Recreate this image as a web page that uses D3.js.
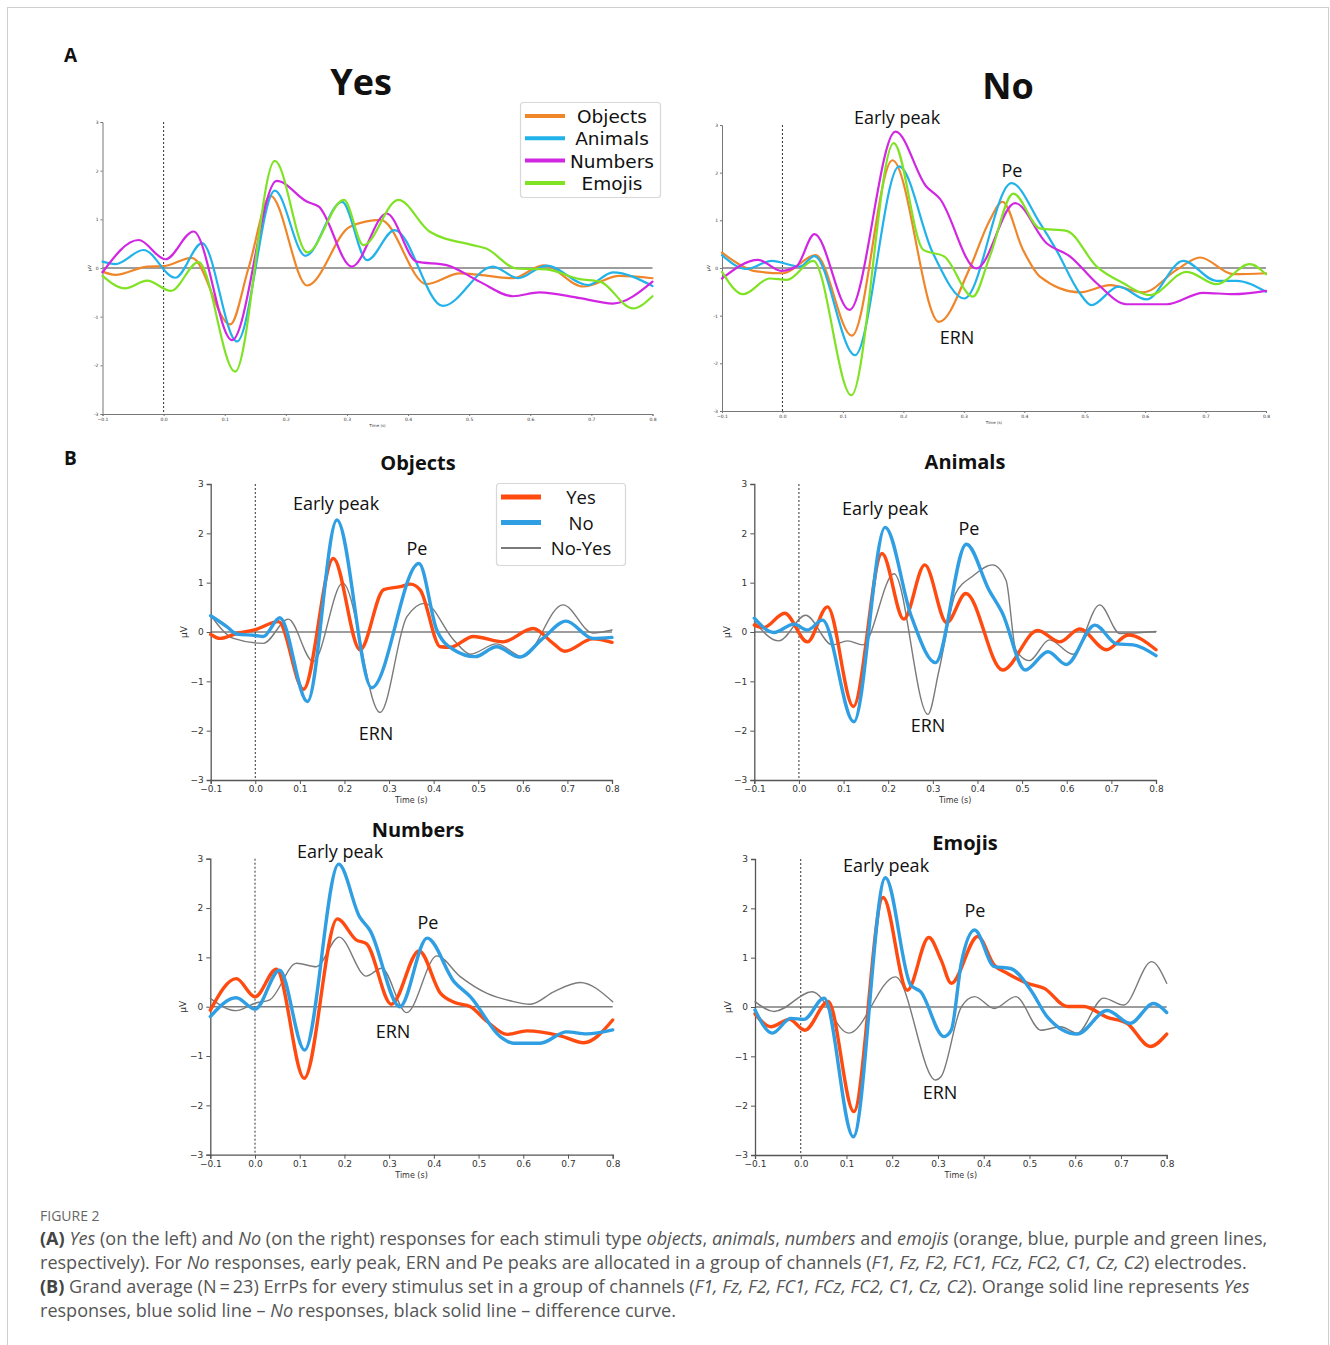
<!DOCTYPE html>
<html>
<head>
<meta charset="utf-8">
<script src="https://cdn.jsdelivr.net/npm/d3@7"></script>
<style>
  html, body { margin: 0; padding: 0; background: #fff; }
  svg { display: block; }
</style>
</head>
<body>
<script>
// ---------------- DATA (time in s, amplitude in µV) ----------------
const xTicksB = [-0.1, 0.0, 0.1, 0.2, 0.3, 0.4, 0.5, 0.6, 0.7, 0.8];
const yTicks = [-3, -2, -1, 0, 1, 2, 3];
const stimCategories = ["Objects", "Animals", "Numbers", "Emojis"];
const responseSeries = ["Yes", "No", "No-Yes"];

// Panel A – Yes responses
const aYesObjects = [[-0.1,-0.075],[-0.079,-0.14],[-0.027,0.03],[0,0.04],[0.046,0.21],[0.109,-1.16],[0.139,0],[0.175,1.48],[0.235,-0.36],[0.305,0.85],[0.355,0.99],[0.43,-0.33],[0.485,-0.11],[0.517,-0.14],[0.572,-0.21],[0.621,0.055],[0.687,-0.38],[0.746,-0.16],[0.8,-0.21]];
const aYesAnimals = [[-0.1,0.13],[-0.079,0.08],[-0.033,0.37],[0.019,-0.2],[0.063,0.51],[0.12,-1.51],[0.182,1.59],[0.232,0.25],[0.292,1.36],[0.333,0.16],[0.378,0.78],[0.457,-0.78],[0.539,0.03],[0.58,-0.21],[0.626,0.05],[0.695,-0.35],[0.735,-0.09],[0.8,-0.37]];
const aYesNumbers = [[-0.1,-0.09],[-0.041,0.575],[0.003,0.18],[0.049,0.75],[0.112,-1.48],[0.185,1.79],[0.235,1.36],[0.254,1.26],[0.308,0.03],[0.365,1.12],[0.414,0.13],[0.463,0.06],[0.517,-0.28],[0.572,-0.58],[0.615,-0.5],[0.681,-0.62],[0.735,-0.73],[0.8,-0.28]];
const aYesEmojis = [[-0.1,-0.16],[-0.063,-0.42],[-0.027,-0.26],[0.012,-0.47],[0.057,0.12],[0.117,-2.13],[0.182,2.2],[0.235,0.32],[0.295,1.4],[0.327,0.47],[0.384,1.4],[0.435,0.75],[0.506,0.47],[0.528,0.4],[0.577,-0.01],[0.626,-0.03],[0.681,-0.23],[0.714,-0.28],[0.768,-0.83],[0.8,-0.58]];

// Panel A – No responses
const aNoObjects = [[-0.1,0.32],[-0.065,0.03],[-0.048,-0.06],[0.001,-0.11],[0.055,0.27],[0.115,-1.42],[0.182,2.26],[0.259,-1.13],[0.31,0],[0.343,1.0],[0.364,1.39],[0.398,0.38],[0.426,-0.18],[0.492,-0.51],[0.542,-0.36],[0.597,-0.51],[0.652,-0.04],[0.691,0.22],[0.746,-0.13],[0.8,-0.11]];
const aNoAnimals = [[-0.1,0.27],[-0.06,-0.02],[-0.018,0.15],[0.029,0.03],[0.053,0.25],[0.12,-1.83],[0.193,2.13],[0.249,0.31],[0.301,-0.64],[0.379,1.78],[0.426,0.94],[0.453,0.38],[0.492,-0.53],[0.511,-0.78],[0.556,-0.39],[0.602,-0.66],[0.663,0.15],[0.718,-0.27],[0.751,-0.27],[0.8,-0.5]];
const aNoNumbers = [[-0.1,-0.22],[-0.04,0.17],[-0.002,-0.06],[0.023,0.03],[0.053,0.71],[0.111,-0.88],[0.187,2.86],[0.238,1.71],[0.26,1.46],[0.321,-0.01],[0.385,1.36],[0.437,0.52],[0.476,0.24],[0.52,-0.32],[0.569,-0.76],[0.636,-0.76],[0.696,-0.52],[0.746,-0.55],[0.8,-0.48]];
const aNoEmojis = [[-0.1,-0.08],[-0.065,-0.55],[-0.021,-0.22],[0.007,-0.25],[0.051,0.15],[0.114,-2.67],[0.184,2.62],[0.233,0.38],[0.268,0.24],[0.315,-0.6],[0.343,0.24],[0.382,1.56],[0.426,0.83],[0.47,0.78],[0.52,0.03],[0.564,-0.32],[0.608,-0.57],[0.669,-0.08],[0.718,-0.34],[0.773,0.08],[0.8,-0.13]];

// Panel B – Objects
const bObjectsYes = [[-0.1,-0.05],[-0.079,-0.13],[-0.042,-0.03],[0,0.05],[0.052,0.21],[0.108,-1.16],[0.175,1.49],[0.235,-0.36],[0.288,0.86],[0.325,0.92],[0.348,0.97],[0.37,0.85],[0.415,-0.3],[0.437,-0.31],[0.489,-0.09],[0.556,-0.2],[0.623,0.07],[0.668,-0.23],[0.694,-0.39],[0.757,-0.14],[0.8,-0.21]];
const bObjectsNo = [[-0.1,0.33],[-0.064,0.11],[-0.042,-0.04],[0,-0.07],[0.018,-0.09],[0.055,0.29],[0.117,-1.41],[0.183,2.27],[0.261,-1.13],[0.367,1.39],[0.407,0.04],[0.445,-0.36],[0.493,-0.5],[0.541,-0.3],[0.593,-0.51],[0.645,-0.13],[0.697,0.22],[0.757,-0.13],[0.8,-0.11]];
const bObjectsDiff = [[-0.1,0.34],[-0.049,-0.13],[0.018,-0.23],[0.074,0.26],[0.13,-0.6],[0.196,0.99],[0.28,-1.63],[0.34,0.31],[0.38,0.58],[0.445,-0.16],[0.482,-0.45],[0.541,-0.24],[0.6,-0.5],[0.69,0.55],[0.757,-0.02],[0.8,0.04]];

// Panel B – Animals
const bAnimalsYes = [[-0.1,0.14],[-0.079,0.09],[-0.032,0.38],[0.019,-0.2],[0.064,0.51],[0.122,-1.51],[0.186,1.59],[0.235,0.26],[0.282,1.36],[0.331,0.19],[0.374,0.78],[0.456,-0.77],[0.535,0.03],[0.584,-0.2],[0.629,0.06],[0.689,-0.36],[0.738,-0.06],[0.8,-0.36]];
const bAnimalsNo = [[-0.1,0.28],[-0.056,-0.01],[-0.011,0.16],[0.019,0.04],[0.053,0.24],[0.123,-1.82],[0.193,2.12],[0.252,0.31],[0.306,-0.62],[0.375,1.78],[0.426,0.85],[0.456,0.38],[0.507,-0.77],[0.558,-0.4],[0.599,-0.66],[0.663,0.14],[0.712,-0.24],[0.749,-0.26],[0.8,-0.48]];
const bAnimalsDiff = [[-0.1,0.21],[-0.045,-0.18],[0.015,0.34],[0.075,-0.26],[0.109,-0.18],[0.143,-0.26],[0.213,1.18],[0.289,-1.67],[0.314,-0.77],[0.351,0.78],[0.389,1.13],[0.434,1.36],[0.464,1.05],[0.486,-0.36],[0.516,-0.58],[0.561,-0.16],[0.614,-0.45],[0.674,0.55],[0.719,-0.03],[0.8,0.01]];

// Panel B – Numbers
const bNumbersYes = [[-0.1,-0.07],[-0.042,0.57],[0,0.2],[0.048,0.76],[0.11,-1.45],[0.184,1.78],[0.227,1.35],[0.249,1.28],[0.305,0.05],[0.367,1.13],[0.415,0.27],[0.445,0.09],[0.482,0.0],[0.519,-0.3],[0.564,-0.56],[0.608,-0.49],[0.683,-0.59],[0.735,-0.73],[0.8,-0.27]];
const bNumbersNo = [[-0.1,-0.2],[-0.042,0.18],[0,-0.05],[0.055,0.74],[0.111,-0.88],[0.187,2.89],[0.234,1.82],[0.257,1.55],[0.324,0.0],[0.385,1.39],[0.445,0.51],[0.482,0.2],[0.549,-0.61],[0.578,-0.74],[0.638,-0.74],[0.697,-0.51],[0.742,-0.55],[0.8,-0.47]];
const bNumbersDiff = [[-0.1,0.17],[-0.042,-0.08],[0,0.07],[0.033,0.14],[0.093,0.88],[0.137,0.81],[0.188,1.41],[0.249,0.62],[0.283,0.78],[0.339,-0.12],[0.407,1.03],[0.459,0.61],[0.519,0.27],[0.571,0.12],[0.616,0.05],[0.668,0.3],[0.727,0.49],[0.8,0.1]];

// Panel B – Emojis
const bEmojisYes = [[-0.1,-0.14],[-0.065,-0.4],[-0.025,-0.25],[0.009,-0.47],[0.06,0.11],[0.116,-2.12],[0.18,2.22],[0.233,0.34],[0.28,1.41],[0.307,0.95],[0.329,0.48],[0.387,1.43],[0.423,0.85],[0.452,0.68],[0.496,0.48],[0.532,0.38],[0.583,0.01],[0.619,0.01],[0.67,-0.21],[0.713,-0.33],[0.764,-0.8],[0.8,-0.55]];
const bEmojisNo = [[-0.1,-0.06],[-0.062,-0.53],[-0.022,-0.23],[0.007,-0.25],[0.051,0.18],[0.115,-2.63],[0.185,2.62],[0.24,0.45],[0.262,0.31],[0.313,-0.6],[0.329,-0.47],[0.351,0.89],[0.38,1.56],[0.423,0.82],[0.459,0.78],[0.503,0.34],[0.539,-0.2],[0.604,-0.55],[0.67,-0.07],[0.72,-0.33],[0.771,0.07],[0.8,-0.11]];
const bEmojisDiff = [[-0.1,0.11],[-0.058,-0.09],[0.025,0.31],[0.105,-0.53],[0.207,0.61],[0.295,-1.48],[0.307,-1.41],[0.351,0.0],[0.38,0.21],[0.423,-0.03],[0.47,0.21],[0.525,-0.47],[0.568,-0.4],[0.604,-0.53],[0.662,0.18],[0.706,0.04],[0.767,0.92],[0.8,0.48]];

// ---------------- STYLE / LAYOUT ----------------
const W = 1330, H = 1345;
const colA = {Objects: "#f0862a", Animals: "#22b2ea", Numbers: "#d126e2", Emojis: "#80e224"};
const colB = {Yes: "#ff4a10", No: "#2f9ee2", "No-Yes": "#7a7a7a"};

const svg = d3.select("body").append("svg").attr("width", W).attr("height", H)
  .style("font-family", "'Open Sans', 'Noto Sans', sans-serif");

svg.append("rect").attr("x", 7.5).attr("y", 7.5).attr("width", 1321).attr("height", 1345)
  .attr("fill", "none").attr("stroke", "#cfcfcf").attr("stroke-width", 1);

const line = (xs, ys) => d3.line().x(d => xs(d[0])).y(d => ys(d[1])).curve(d3.curveMonotoneX);

function drawPanel(cfg) {
  const xs = d3.scaleLinear().domain([-0.1, 0.8]).range(cfg.xr);
  const ys = d3.scaleLinear().domain([-3, 3]).range(cfg.yr);
  const g = svg.append("g");
  const small = cfg.small;
  const fs = small ? 4.5 : 9;
  const tick = small ? 2 : 4;
  const spineCol = small ? "#777" : "#555";
  g.append("line").attr("x1", xs(-0.1)).attr("x2", xs(0.8)).attr("y1", ys(0)).attr("y2", ys(0))
    .attr("stroke", "#7d7d7d").attr("stroke-width", small ? 1.3 : 1.5);
  g.append("line").attr("x1", xs(0)).attr("x2", xs(0)).attr("y1", ys(3)).attr("y2", ys(-3))
    .attr("stroke", "#333").attr("stroke-width", 1).attr("stroke-dasharray", "2,2");
  const yAxis = d3.axisLeft(ys).tickValues(yTicks).tickSize(tick).tickPadding(small ? 2 : 3)
    .tickFormat(d => small ? String(d) : d3.format("")(d).replace("-", "\u2212"));
  const xAxis = d3.axisBottom(xs).tickValues(xTicksB).tickSize(tick).tickPadding(2)
    .tickFormat(d => small ? d3.format(".1f")(d) : d3.format(".1f")(d).replace("-", "\u2212"));
  const ya = g.append("g").attr("transform", `translate(${xs(-0.1)},0)`).call(yAxis);
  const xa = g.append("g").attr("transform", `translate(0,${ys(-3)})`).call(xAxis);
  [ya, xa].forEach(a => {
    a.select(".domain").attr("stroke", spineCol).attr("stroke-width", small ? 1 : 1.3);
    a.selectAll(".tick line").attr("stroke", spineCol);
    a.selectAll(".tick text").attr("fill", "#333").style("font-size", fs + "px")
      .style("font-family", "'DejaVu Sans', sans-serif");
  });
  g.append("text").attr("transform", `translate(${xs(-0.1) - (small ? 12 : 24)},${ys(0)}) rotate(-90)`)
    .attr("text-anchor", "middle").style("font-size", fs + "px").attr("fill", "#333")
    .style("font-family", "'DejaVu Sans', sans-serif").text("\u03bcV");
  g.append("text").attr("x", (xs(-0.1) + xs(0.8)) / 2).attr("y", ys(-3) + (small ? 13 : 23))
    .attr("text-anchor", "middle").style("font-size", (small ? 4 : 8) + "px").attr("fill", "#333")
    .style("font-family", "'DejaVu Sans', sans-serif").text("Time (s)");
  cfg.series.forEach(s => {
    g.append("path").datum(s.data).attr("d", line(xs, ys))
      .attr("fill", "none").attr("stroke", s.color).attr("stroke-width", s.width)
      .attr("stroke-linejoin", "round").attr("stroke-linecap", "round");
  });
  return {xs, ys};
}

// Panel A
drawPanel({xr: [102.5, 652.5], yr: [414, 122], small: true, series: [
  {data: aYesObjects, color: colA.Objects, width: 2.2},
  {data: aYesAnimals, color: colA.Animals, width: 2.2},
  {data: aYesNumbers, color: colA.Numbers, width: 2.2},
  {data: aYesEmojis, color: colA.Emojis, width: 2.2}]});
drawPanel({xr: [722, 1266], yr: [411, 125], small: true, series: [
  {data: aNoObjects, color: colA.Objects, width: 2.2},
  {data: aNoAnimals, color: colA.Animals, width: 2.2},
  {data: aNoNumbers, color: colA.Numbers, width: 2.2},
  {data: aNoEmojis, color: colA.Emojis, width: 2.2}]});

// Panel B
const bCfg = [
  {xr: [210.7, 612], yr: [780, 484], d: [bObjectsYes, bObjectsNo, bObjectsDiff]},
  {xr: [754.3, 1156], yr: [780, 484], d: [bAnimalsYes, bAnimalsNo, bAnimalsDiff]},
  {xr: [210.3, 612.7], yr: [1154.7, 858.7], d: [bNumbersYes, bNumbersNo, bNumbersDiff]},
  {xr: [755, 1166.7], yr: [1155, 859], d: [bEmojisYes, bEmojisNo, bEmojisDiff]}
];
bCfg.forEach(c => drawPanel({xr: c.xr, yr: c.yr, small: false, series: [
  {data: c.d[2], color: colB["No-Yes"], width: 1.4},
  {data: c.d[0], color: colB.Yes, width: 3.4},
  {data: c.d[1], color: colB.No, width: 3.4}]}));

// ---------------- TEXT ----------------
function txt(x, y, s, size, weight, anchor, fill) {
  return svg.append("text").attr("x", x).attr("y", y).attr("text-anchor", anchor || "middle")
    .style("font-size", size + "px").style("font-weight", weight || 400).attr("fill", fill || "#111").text(s);
}
txt(64, 62, "A", 19, 700, "start");
txt(64, 465, "B", 19, 700, "start");
txt(361, 95, "Yes", 36, 700);
txt(1008, 99, "No", 36, 700);

txt(418, 470, stimCategories[0], 20, 700);
txt(965, 469, stimCategories[1], 20, 700);
txt(418, 837, stimCategories[2], 20, 700);
txt(965, 850, stimCategories[3], 20, 700);

const ann = [
  [897, 124, "Early peak"], [1012, 177, "Pe"], [957, 344, "ERN"],
  [336, 510, "Early peak"], [417, 555, "Pe"], [376, 740, "ERN"],
  [885, 515, "Early peak"], [969, 535, "Pe"], [928, 732, "ERN"],
  [340, 858, "Early peak"], [428, 929, "Pe"], [393, 1038, "ERN"],
  [886, 872, "Early peak"], [975, 917, "Pe"], [940, 1099, "ERN"]
];
ann.forEach(a => txt(a[0], a[1], a[2], 18, 400));

// Legend A
svg.append("rect").attr("x", 520.5).attr("y", 102.5).attr("width", 140).attr("height", 95).attr("rx", 3)
  .attr("fill", "#fff").attr("stroke", "#d8d8d8").attr("stroke-width", 1.2);
stimCategories.forEach((c, i) => {
  const y = 116 + i * 22.3;
  svg.append("line").attr("x1", 525).attr("x2", 565).attr("y1", y).attr("y2", y)
    .attr("stroke", colA[c]).attr("stroke-width", 4);
  txt(612, y + 7, c, 18.5, 400).style("font-family", "'DejaVu Sans', sans-serif");
});

// Legend B
svg.append("rect").attr("x", 496.5).attr("y", 483.5).attr("width", 129).attr("height", 82).attr("rx", 3)
  .attr("fill", "#fff").attr("stroke", "#d8d8d8").attr("stroke-width", 1.2);
responseSeries.forEach((c, i) => {
  const y = 497 + i * 25.5;
  svg.append("line").attr("x1", 501).attr("x2", 541).attr("y1", y).attr("y2", y)
    .attr("stroke", colB[c]).attr("stroke-width", c === "No-Yes" ? 2 : 5);
  txt(581, y + 7, c, 18.5, 400);
});

// ---------------- CAPTION ----------------
txt(40, 1221, "FIGURE 2", 14, 400, "start", "#666");
const capLines = [
  [["(A)", "b"], [" "], ["Yes", "i"], [" (on the left) and "], ["No", "i"], [" (on the right) responses for each stimuli type "], ["objects", "i"], [", "], ["animals", "i"], [", "], ["numbers", "i"], [" and "], ["emojis", "i"], [" (orange, blue, purple and green lines,"]],
  [["respectively). For "], ["No", "i"], [" responses, early peak, ERN and Pe peaks are allocated in a group of channels ("], ["F1, Fz, F2, FC1, FCz, FC2, C1, Cz, C2", "i"], [") electrodes."]],
  [["(B)", "b"], [" Grand average (N\u2009=\u200923) ErrPs for every stimulus set in a group of channels ("], ["F1, Fz, F2, FC1, FCz, FC2, C1, Cz, C2", "i"], ["). Orange solid line represents "], ["Yes", "i"]],
  [["responses, blue solid line \u2013 "], ["No", "i"], [" responses, black solid line \u2013 difference curve."]]
];
const capY = [1245, 1269, 1293, 1317];
const capNodes = capLines.map((segs, i) => {
  const t = svg.append("text").attr("x", 40).attr("y", capY[i]).attr("fill", "#555").style("font-size", "17px");
  segs.forEach(s => {
    const ts = t.append("tspan").text(s[0]);
    if (s[1] === "b") ts.style("font-weight", 700).attr("fill", "#444");
    if (s[1] === "i") ts.style("font-style", "italic");
  });
  return t;
});
const w0 = capNodes[0].node().getComputedTextLength();
const fsCap = 17 * 1228 / w0;
capNodes.forEach(n => n.style("font-size", fsCap + "px"));
</script>
</body>
</html>
